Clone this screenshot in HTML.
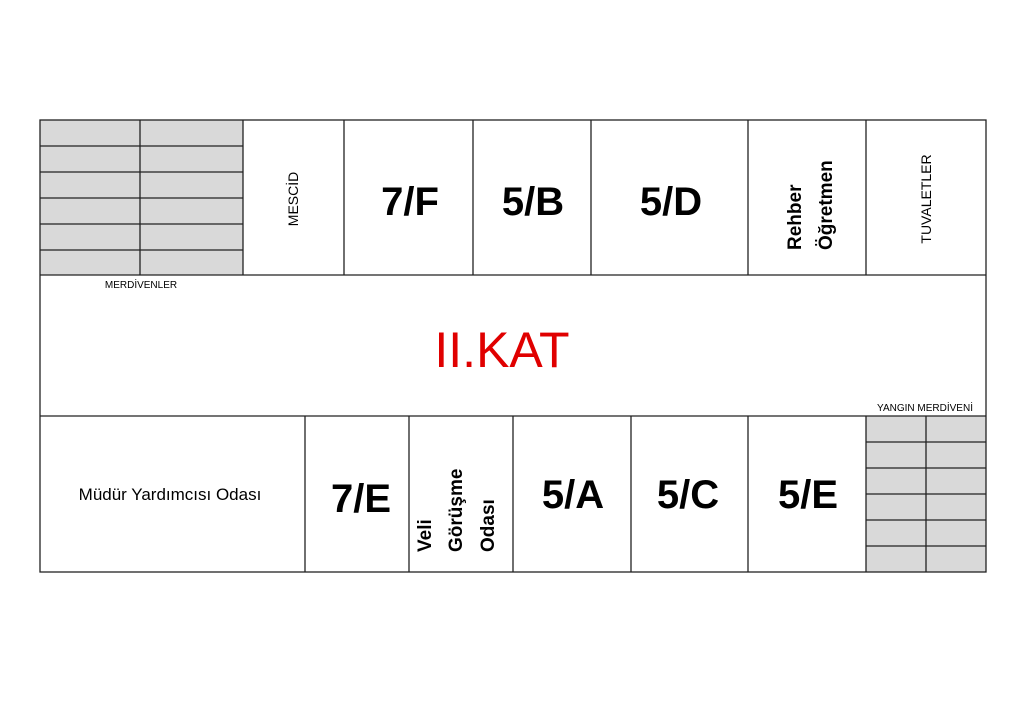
<!DOCTYPE html>
<html><head><meta charset="utf-8"><style>
html,body{margin:0;padding:0;background:#fff;}
svg{display:block;}
text{font-family:"Liberation Sans",sans-serif;}
</style></head><body>
<svg width="1024" height="723" viewBox="0 0 1024 723" xmlns="http://www.w3.org/2000/svg">
<g fill="#d9d9d9" stroke="none">
<rect x="40" y="120" width="203" height="155"/>
<rect x="866" y="416" width="120" height="156"/>
</g>
<g stroke="#222" stroke-width="1.3" fill="none">
<rect x="40" y="120" width="946" height="452"/>
<line x1="40" y1="275" x2="986" y2="275"/>
<line x1="40" y1="416" x2="986" y2="416"/>
<line x1="140" y1="120" x2="140" y2="275"/>
<line x1="243" y1="120" x2="243" y2="275"/>
<line x1="344" y1="120" x2="344" y2="275"/>
<line x1="473" y1="120" x2="473" y2="275"/>
<line x1="591" y1="120" x2="591" y2="275"/>
<line x1="748" y1="120" x2="748" y2="275"/>
<line x1="866" y1="120" x2="866" y2="275"/>
<line x1="40" y1="146" x2="243" y2="146"/>
<line x1="40" y1="172" x2="243" y2="172"/>
<line x1="40" y1="198" x2="243" y2="198"/>
<line x1="40" y1="224" x2="243" y2="224"/>
<line x1="40" y1="250" x2="243" y2="250"/>
<line x1="305" y1="416" x2="305" y2="572"/>
<line x1="409" y1="416" x2="409" y2="572"/>
<line x1="513" y1="416" x2="513" y2="572"/>
<line x1="631" y1="416" x2="631" y2="572"/>
<line x1="748" y1="416" x2="748" y2="572"/>
<line x1="866" y1="416" x2="866" y2="572"/>
<line x1="926" y1="416" x2="926" y2="572"/>
<line x1="866" y1="442" x2="986" y2="442"/>
<line x1="866" y1="468" x2="986" y2="468"/>
<line x1="866" y1="494" x2="986" y2="494"/>
<line x1="866" y1="520" x2="986" y2="520"/>
<line x1="866" y1="546" x2="986" y2="546"/>
</g>
<g fill="#000">
<text x="141" y="288" font-size="10" text-anchor="middle">MERDİVENLER</text>
<text x="925" y="411" font-size="10" text-anchor="middle">YANGIN MERDİVENİ</text>
<text transform="translate(298,199) rotate(-90)" font-size="14" text-anchor="middle">MESCİD</text>
<text transform="translate(931,199) rotate(-90)" font-size="14" text-anchor="middle">TUVALETLER</text>
<text transform="translate(801,250) rotate(-90)" font-size="19" font-weight="bold">Rehber</text>
<text transform="translate(832,250) rotate(-90)" font-size="19" font-weight="bold">Öğretmen</text>
<text transform="translate(431,552) rotate(-90)" font-size="19" font-weight="bold">Veli</text>
<text transform="translate(462,552) rotate(-90)" font-size="19" font-weight="bold">Görüşme</text>
<text transform="translate(494,552) rotate(-90)" font-size="19" font-weight="bold">Odası</text>
<g font-size="40" font-weight="bold" text-anchor="middle">
<text x="410" y="215">7/F</text>
<text x="533" y="215">5/B</text>
<text x="671" y="215">5/D</text>
<text x="361" y="512">7/E</text>
<text x="573" y="508">5/A</text>
<text x="688" y="508">5/C</text>
<text x="808" y="508">5/E</text>
</g>
<text x="170" y="500" font-size="17" text-anchor="middle">Müdür Yardımcısı Odası</text>
</g>
<text x="502" y="367" font-size="50" fill="#e00000" text-anchor="middle">II.KAT</text>
</svg>
</body></html>
